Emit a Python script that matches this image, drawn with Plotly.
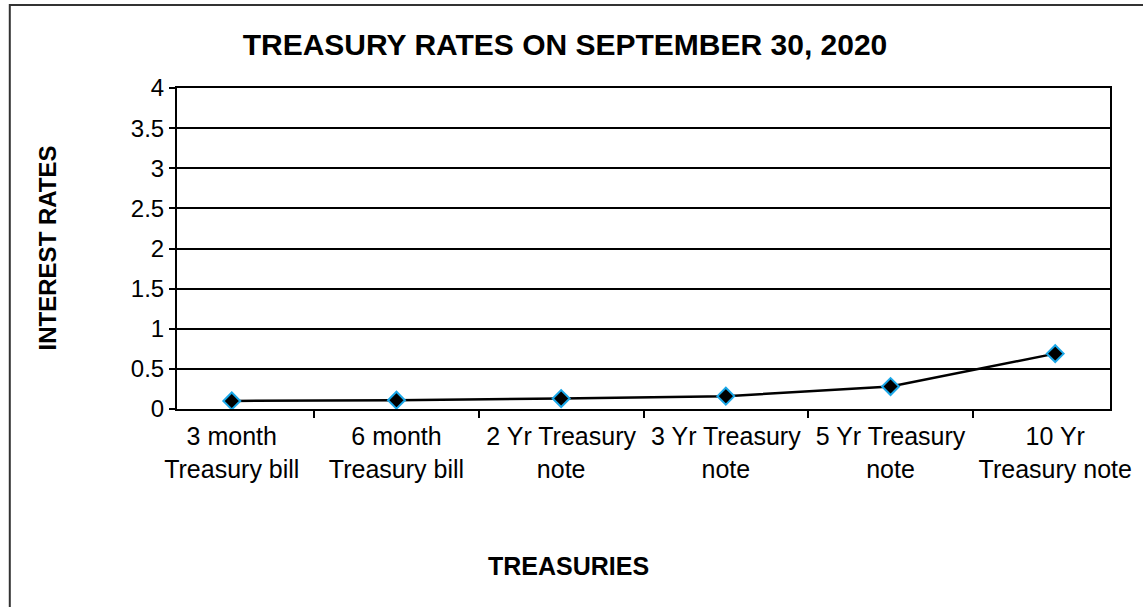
import plotly.graph_objects as go

categories = ["3 month<br>Treasury bill", "6 month<br>Treasury bill", "2 Yr Treasury<br>note",
              "3 Yr Treasury<br>note", "5 Yr Treasury<br>note", "10 Yr<br>Treasury note"]
rates = [0.10, 0.11, 0.13, 0.16, 0.28, 0.69]

W, H = 1143, 607
L, R, T, B = 177, 23, 88, 198
pw, ph = W - L - R, H - T - B

def px(x):
    return (x - L) / pw

def py(y):
    return (H - B - y) / ph

FONT = "Liberation Sans, Arial, sans-serif"

fig = go.Figure()
fig.add_trace(go.Scatter(
    x=categories, y=rates, mode="lines+markers",
    line=dict(color="black", width=2.5),
    marker=dict(symbol="diamond", size=13, color="black",
                line=dict(color="#1AA7E8", width=2)),
    showlegend=False, cliponaxis=False,
))

fig.update_layout(
    width=W, height=H,
    margin=dict(l=L, r=R, t=T, b=B),
    paper_bgcolor="white", plot_bgcolor="white",
    font=dict(family=FONT, color="black", size=24),
    title=dict(text="<b>TREASURY RATES ON SEPTEMBER 30, 2020</b>",
               x=565 / W, xanchor="center", y=1 - 44 / H, yanchor="middle",
               font=dict(size=30, family=FONT, color="black")),
    xaxis=dict(type="category", showgrid=False, ticks="outside", tickson="boundaries",
               ticklen=7, tickcolor="black", tickwidth=1.5,
               showline=True, linecolor="black", linewidth=2, mirror=True,
               ticklabelstandoff=4,
               tickfont=dict(size=25, family=FONT, color="black")),
    yaxis=dict(range=[0, 4], dtick=0.5, showgrid=True, gridcolor="black", gridwidth=1.8,
               ticks="outside", ticklen=6, tickcolor="black", tickwidth=1.5,
               showline=True, linecolor="black", linewidth=2, mirror=True,
               zeroline=False,
               tickfont=dict(size=24, family=FONT, color="black")),
    shapes=[dict(type="rect", xref="paper", yref="paper",
                 x0=px(8), x1=px(1160), y0=py(5), y1=py(640),
                 line=dict(color="#333333", width=2), fillcolor="rgba(0,0,0,0)", layer="below")],
    annotations=[
        dict(text="<b>TREASURIES</b>", xref="paper", yref="paper", x=px(573), y=py(566),
             showarrow=False, xanchor="center", yanchor="middle",
             font=dict(size=25, family=FONT, color="black")),
        dict(text="<b>INTEREST RATES</b>", xref="paper", yref="paper", x=px(46), y=py(248),
             showarrow=False, xanchor="center", yanchor="middle", textangle=-90,
             font=dict(size=24, family=FONT, color="black")),
    ],
)

fig.write_html("out.html")
